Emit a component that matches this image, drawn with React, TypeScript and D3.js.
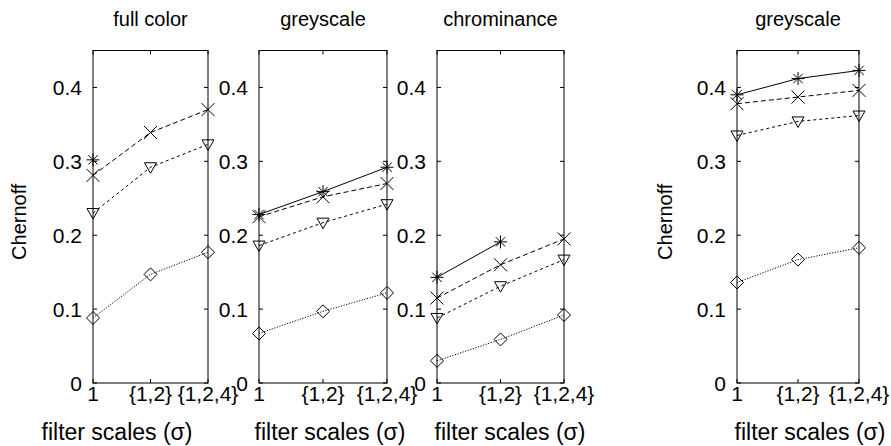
import React from "react";
import * as d3 from "d3";

const xLabels = ["1", "{1,2}", "{1,2,4}"];
const yTicks = [0, 0.1, 0.2, 0.3, 0.4];
const panelTitles = ["full color", "greyscale", "chrominance", "greyscale"];

// series per panel: asterisk (solid), cross (dashed), triangle (short dash), diamond (dotted)
const starVals = [
  [0.302, null, null],
  [0.228, 0.259, 0.292],
  [0.143, 0.191, null],
  [0.390, 0.412, 0.423],
];
const crossVals = [
  [0.281, 0.339, 0.370],
  [0.225, 0.252, 0.270],
  [0.115, 0.160, 0.195],
  [0.378, 0.387, 0.396],
];
const triVals = [
  [0.230, 0.292, 0.323],
  [0.186, 0.217, 0.242],
  [0.088, 0.131, 0.167],
  [0.335, 0.354, 0.362],
];
const diaVals = [
  [0.088, 0.147, 0.177],
  [0.067, 0.097, 0.122],
  [0.030, 0.059, 0.092],
  [0.136, 0.167, 0.183],
];

const panelX = [
  [93, 208],
  [259, 387],
  [437, 564],
  [737, 859],
];
const xLabelCenters = [117, 330, 510, 810];
const TOP = 50.5;
const BOTTOM = 383;
const FONT = "'Liberation Sans', Arial, Helvetica, sans-serif";

function Marker({ type, x, y }: { type: string; x: number; y: number }) {
  const s = 6.5;
  if (type === "star") {
    const d = s * 0.72;
    return (
      <path
        d={`M${x - s},${y}H${x + s}M${x},${y - s}V${y + s}M${x - d},${y - d}L${x + d},${y + d}M${x - d},${y + d}L${x + d},${y - d}`}
        stroke="#000"
        strokeWidth={1}
        fill="none"
      />
    );
  }
  if (type === "cross") {
    const d = s;
    return (
      <path
        d={`M${x - d},${y - d}L${x + d},${y + d}M${x - d},${y + d}L${x + d},${y - d}`}
        stroke="#000"
        strokeWidth={1}
        fill="none"
      />
    );
  }
  if (type === "tri") {
    return (
      <path
        d={`M${x - 6},${y - 4.5}L${x + 6},${y - 4.5}L${x},${y + 6}Z`}
        stroke="#000"
        strokeWidth={1}
        fill="none"
      />
    );
  }
  return (
    <path
      d={`M${x},${y - 6.5}L${x + 6.5},${y}L${x},${y + 6.5}L${x - 6.5},${y}Z`}
      stroke="#000"
      strokeWidth={1}
      fill="none"
    />
  );
}

function Panel({ idx }: { idx: number }) {
  const [x0, x1] = panelX[idx];
  const x = d3.scalePoint<string>().domain(xLabels).range([x0, x1]);
  const y = d3.scaleLinear().domain([0, 0.45]).range([BOTTOM, TOP]);
  const series = [
    { vals: starVals[idx], type: "star", dash: undefined },
    { vals: crossVals[idx], type: "cross", dash: "5,3" },
    { vals: triVals[idx], type: "tri", dash: "3,3" },
    { vals: diaVals[idx], type: "dia", dash: "1.2,1.5" },
  ];
  const line = d3
    .line<number | null>()
    .defined((d) => d !== null)
    .x((_, i) => x(xLabels[i]) as number)
    .y((d) => y(d as number));
  const tl = 4;
  return (
    <g>
      <text
        x={(x0 + x1) / 2}
        y={26}
        textAnchor="middle"
        fontSize={20}
        fontFamily={FONT}
      >
        {panelTitles[idx]}
      </text>
      <rect
        x={x0}
        y={TOP}
        width={x1 - x0}
        height={BOTTOM - TOP}
        fill="none"
        stroke="#000"
        strokeWidth={1}
      />
      {yTicks.map((t) => (
        <g key={t}>
          <line x1={x0} x2={x0 + tl} y1={y(t)} y2={y(t)} stroke="#000" />
          <line x1={x1} x2={x1 - tl} y1={y(t)} y2={y(t)} stroke="#000" />
          <text
            x={x0 - 11}
            y={y(t)}
            dy="0.36em"
            textAnchor="end"
            fontSize={21}
            fontFamily={FONT}
          >
            {t === 0 ? "0" : d3.format(".1f")(t)}
          </text>
        </g>
      ))}
      {xLabels.map((l) => (
        <g key={l}>
          <line x1={x(l)} x2={x(l)} y1={BOTTOM} y2={BOTTOM - tl} stroke="#000" />
          <line x1={x(l)} x2={x(l)} y1={TOP} y2={TOP + tl} stroke="#000" />
          <text
            x={x(l)}
            y={401}
            textAnchor="middle"
            fontSize={21}
            fontFamily={FONT}
          >
            {l}
          </text>
        </g>
      ))}
      <text
        x={xLabelCenters[idx]}
        y={440}
        textAnchor="middle"
        fontSize={23}
        fontFamily={FONT}
      >
        filter scales (σ)
      </text>
      {series.map((s, si) => (
        <g key={si}>
          <path
            d={line(s.vals) || ""}
            fill="none"
            stroke="#000"
            strokeWidth={1}
            strokeDasharray={s.dash}
          />
          {s.vals.map((v, i) =>
            v === null ? null : (
              <Marker key={i} type={s.type} x={x(xLabels[i]) as number} y={y(v)} />
            )
          )}
        </g>
      ))}
    </g>
  );
}

export default function App() {
  const ylabX = [26, 672];
  return (
    <svg
      width={891}
      height={446}
      style={{ position: "absolute", left: 0, top: 0, background: "#fff" }}
    >
      {[0, 1, 2, 3].map((i) => (
        <Panel key={i} idx={i} />
      ))}
      {ylabX.map((lx, i) => (
        <text
          key={i}
          transform={`translate(${lx},${(TOP + BOTTOM) / 2 + 5}) rotate(-90)`}
          textAnchor="middle"
          fontSize={20}
          fontFamily={FONT}
        >
          Chernoff
        </text>
      ))}
    </svg>
  );
}
